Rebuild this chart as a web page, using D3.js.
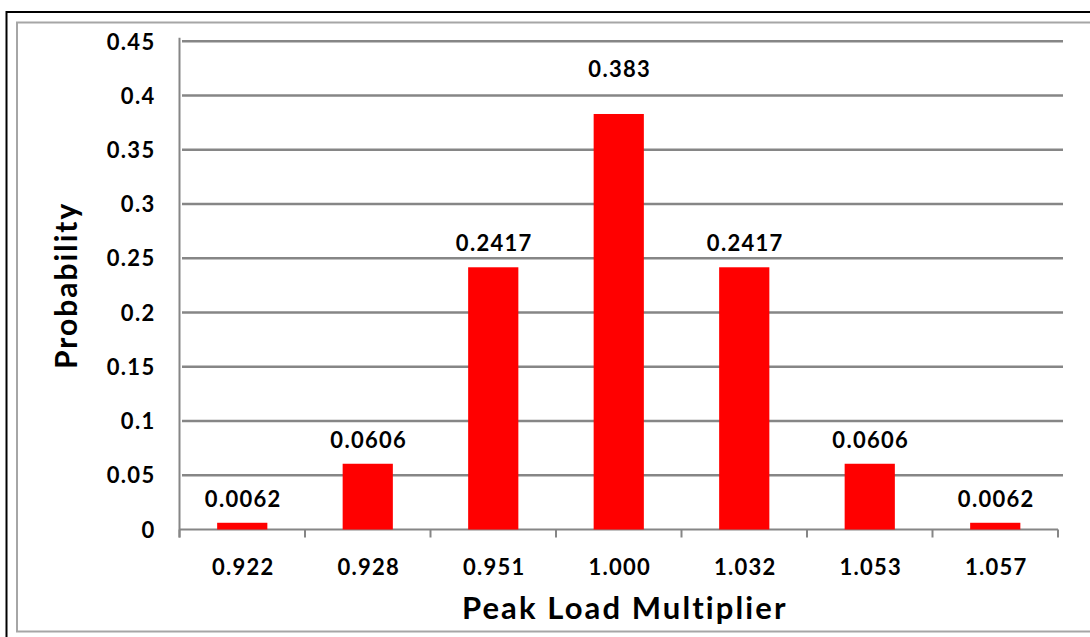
<!DOCTYPE html>
<html>
<head>
<meta charset="utf-8">
<script src="https://cdn.jsdelivr.net/npm/d3@7"></script>
<style>
  html, body { margin: 0; padding: 0; background: #fff; }
  svg { display: block; }
  text { font-family: Lato, "Open Sans", sans-serif; font-weight: bold; fill: #000; }
</style>
</head>
<body>
<svg id="chart" width="1090" height="637"></svg>
<script>
// Peak load multiplier distribution
const categories = ["0.922", "0.928", "0.951", "1.000", "1.032", "1.053", "1.057"];
const probabilities = [0.0062, 0.0606, 0.2417, 0.383, 0.2417, 0.0606, 0.0062];
const valueLabels = ["0.0062", "0.0606", "0.2417", "0.383", "0.2417", "0.0606", "0.0062"];
const yTickValues = [0, 0.05, 0.1, 0.15, 0.2, 0.25, 0.3, 0.35, 0.4, 0.45];
const yTickLabels = ["0", "0.05", "0.1", "0.15", "0.2", "0.25", "0.3", "0.35", "0.4", "0.45"];
const xTitle = "Peak Load Multiplier";
const yTitle = "Probability";

const svg = d3.select("#chart");
const W = 1090, H = 637;

// plot area
const plot = { left: 179.5, right: 1058, top: 41.3, bottom: 529.5 };
const gridColor = "#868686";
const labelSize = 22;
const labelSpacing = "1.3px";

// outer frames
svg.append("rect")
  .attr("x", 6.5).attr("y", 12).attr("width", W + 20).attr("height", H + 20)
  .attr("fill", "none").attr("stroke", "#000").attr("stroke-width", 2);
svg.append("rect")
  .attr("x", 17).attr("y", 22.5).attr("width", W + 20).attr("height", 609)
  .attr("fill", "none").attr("stroke", "#a6a6a6").attr("stroke-width", 2);

const x = d3.scaleBand()
  .domain(categories)
  .range([plot.left, plot.right])
  .paddingInner(0.6)
  .paddingOuter(0.3);

const y = d3.scaleLinear()
  .domain([0, 0.45])
  .range([plot.bottom, plot.top]);

// horizontal gridlines
svg.append("g")
  .selectAll("line")
  .data(yTickValues.filter(v => v > 0))
  .join("line")
  .attr("x1", plot.left + 2.5)
  .attr("x2", plot.right + 5)
  .attr("y1", d => y(d))
  .attr("y2", d => y(d))
  .attr("stroke", gridColor)
  .attr("stroke-width", 2.5);

// y axis line
svg.append("line")
  .attr("x1", plot.left).attr("x2", plot.left)
  .attr("y1", plot.top - 3.5).attr("y2", plot.bottom + 8)
  .attr("stroke", gridColor).attr("stroke-width", 2);

// y tick labels
const yAxis = d3.axisLeft(y)
  .tickValues(yTickValues)
  .tickSize(0)
  .tickPadding(24)
  .tickFormat((d, i) => yTickLabels[i]);
const gy = svg.append("g").attr("transform", `translate(${plot.left},0)`).call(yAxis);
gy.select(".domain").remove();
gy.selectAll("text")
  .attr("font-size", labelSize)
  .attr("letter-spacing", labelSpacing)
  .attr("dy", "0.35em")
  .style("font-family", "Lato, sans-serif")
  .style("font-weight", "bold")
  .attr("fill", "#000");

// x axis line with ticks at category boundaries
svg.append("line")
  .attr("x1", plot.left).attr("x2", plot.right)
  .attr("y1", plot.bottom).attr("y2", plot.bottom)
  .attr("stroke", gridColor).attr("stroke-width", 2);

const step = x.step();
const boundaries = d3.range(categories.length + 1).map(i => plot.left + i * step);
svg.append("g")
  .selectAll("line")
  .data(boundaries)
  .join("line")
  .attr("x1", d => d).attr("x2", d => d)
  .attr("y1", plot.bottom).attr("y2", plot.bottom + 8)
  .attr("stroke", gridColor).attr("stroke-width", 2);

// x tick labels
const xAxis = d3.axisBottom(x).tickSize(0).tickPadding(0);
const gx = svg.append("g").attr("transform", `translate(0,${plot.bottom})`).call(xAxis);
gx.select(".domain").remove();
gx.selectAll("text")
  .attr("y", 45.5)
  .attr("dy", 0)
  .attr("dx", "1px")
  .attr("font-size", labelSize)
  .attr("letter-spacing", labelSpacing)
  .style("font-family", "Lato, sans-serif")
  .style("font-weight", "bold")
  .attr("fill", "#000");

// bars
const barW = x.bandwidth();
svg.append("g")
  .selectAll("rect")
  .data(probabilities)
  .join("rect")
  .attr("x", (d, i) => x(categories[i]))
  .attr("y", d => y(d))
  .attr("width", barW)
  .attr("height", d => y(0) - y(d))
  .attr("fill", "#ff0000");

// value labels above the bars; the tallest one sits a little higher
const peak = d3.max(probabilities);
const peakLift = 21;
svg.append("g")
  .selectAll("text")
  .data(probabilities)
  .join("text")
  .attr("x", (d, i) => x(categories[i]) + barW / 2 + 1)
  .attr("y", d => y(d) - 16 - (d === peak ? peakLift : 0))
  .attr("text-anchor", "middle")
  .attr("font-size", labelSize)
  .attr("letter-spacing", labelSpacing)
  .text((d, i) => valueLabels[i]);

// axis titles
svg.append("text")
  .attr("x", (plot.left + plot.right) / 2 + 6)
  .attr("y", 619)
  .attr("text-anchor", "middle")
  .attr("font-size", 31)
  .attr("letter-spacing", "2.1px")
  .text(xTitle);

svg.append("text")
  .attr("transform", `translate(77,${(plot.top + plot.bottom) / 2}) rotate(-90)`)
  .attr("text-anchor", "middle")
  .attr("font-size", 30)
  .attr("letter-spacing", "2px")
  .text(yTitle);
</script>
</body>
</html>
